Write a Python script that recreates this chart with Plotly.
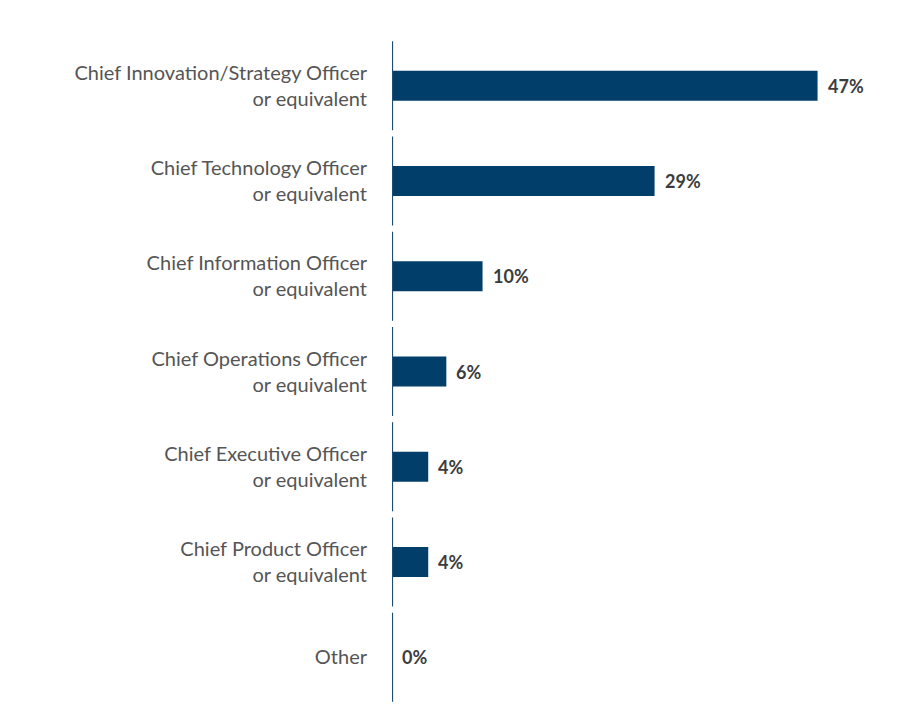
import plotly.graph_objects as go

# survey answers, top to bottom
roles = [
    "Chief Innovation/Strategy Officer<br>or equivalent",
    "Chief Technology Officer<br>or equivalent",
    "Chief Information Officer<br>or equivalent",
    "Chief Operations Officer<br>or equivalent",
    "Chief Executive Officer<br>or equivalent",
    "Chief Product Officer<br>or equivalent",
    "Other",
]
share = [47, 29, 10, 6, 4, 4, 0]
share_labels = ["47%", "29%", "10%", "6%", "4%", "4%", "0%"]

BAR_COLOR = "#013f6a"
AXIS_COLOR = "#1d4b72"

fig = go.Figure()

fig.add_trace(go.Bar(
    x=share,
    y=roles,
    orientation="h",
    width=0.315,
    marker=dict(color=BAR_COLOR, line=dict(width=0)),
    hoverinfo="skip",
))

# value labels just right of each bar
for val, lab, role in zip(share, share_labels, roles):
    fig.add_annotation(
        x=val, y=role, text=lab, showarrow=False,
        xanchor="left", xshift=8,
        font=dict(family="Lato", size=18, color="#3c3c3c", weight="bold"),
    )

# axis drawn as one short segment per category
for i in range(len(roles)):
    fig.add_shape(
        type="line", xref="x", yref="y",
        x0=0, x1=0, y0=i - 0.467, y1=i + 0.467,
        line=dict(color=AXIS_COLOR, width=2.2),
    )

fig.update_layout(
    width=900, height=728,
    margin=dict(l=384, r=18, t=30, b=31),
    plot_bgcolor="white",
    paper_bgcolor="white",
    showlegend=False,
    font=dict(family="Lato", size=20, color="#555555"),
    xaxis=dict(
        range=[0, 55], visible=False, showgrid=False, zeroline=False,
    ),
    yaxis=dict(
        autorange="reversed", showgrid=False, zeroline=False, showline=False,
        ticks="", ticklabelstandoff=24,
        tickfont=dict(family="Lato", size=20, color="#555555"),
    ),
)

fig.write_html("out.html")
